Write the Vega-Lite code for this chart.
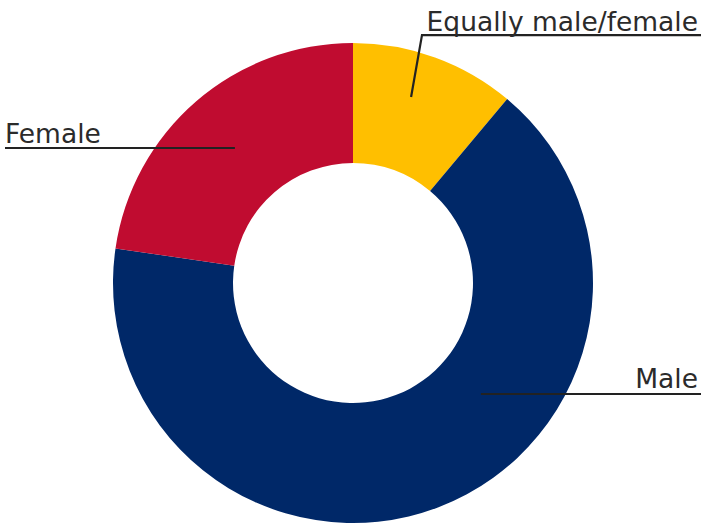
{
  "$schema": "https://vega.github.io/schema/vega-lite/v6.json",
  "autosize": "none",
  "width": 696,
  "height": 482,
  "padding": {"top": 42, "bottom": 0, "left": 5, "right": 0},
  "background": "white",
  "config": {"view": {"stroke": null}},
  "datasets": {
    "shares": [
      {"category": "Equally male/female", "share": 11.1, "rank": 1},
      {"category": "Male", "share": 66.2, "rank": 2},
      {"category": "Female", "share": 22.7, "rank": 3}
    ],
    "callouts": [
      {"category": "Equally male/female", "pt": 1, "x": 0.242, "y": 0.775},
      {"category": "Equally male/female", "pt": 2, "x": 0.2875, "y": 1.033},
      {"category": "Equally male/female", "pt": 3, "x": 1.45, "y": 1.033},
      {"category": "Female", "pt": 1, "x": -1.45, "y": 0.5625},
      {"category": "Female", "pt": 2, "x": -0.492, "y": 0.5625},
      {"category": "Male", "pt": 1, "x": 0.533, "y": -0.4625},
      {"category": "Male", "pt": 2, "x": 1.45, "y": -0.4625}
    ],
    "labels": [
      {"category": "Equally male/female", "x": 1.4375, "y": 1.05, "side": "right"},
      {"category": "Female", "x": -1.45, "y": 0.585, "side": "left"},
      {"category": "Male", "x": 1.4375, "y": -0.437, "side": "right"}
    ]
  },
  "layer": [
    {
      "data": {"name": "shares"},
      "mark": {"type": "arc", "radius": 240, "radius2": 120, "stroke": null},
      "encoding": {
        "theta": {"field": "share", "type": "quantitative", "stack": true},
        "order": {"field": "rank", "type": "quantitative"},
        "color": {
          "field": "category",
          "type": "nominal",
          "scale": {
            "domain": ["Equally male/female", "Male", "Female"],
            "range": ["#FFBF00", "#002868", "#C00C30"]
          },
          "legend": null
        }
      }
    },
    {
      "data": {"name": "callouts"},
      "mark": {"type": "line", "color": "#222222", "strokeWidth": 2.2},
      "encoding": {
        "x": {"field": "x", "type": "quantitative", "scale": {"domain": [-1.45, 1.45], "nice": false, "zero": false}, "axis": null},
        "y": {"field": "y", "type": "quantitative", "scale": {"domain": [-1.004, 1.004], "nice": false, "zero": false}, "axis": null},
        "detail": {"field": "category"},
        "order": {"field": "pt", "type": "quantitative"}
      }
    },
    {
      "data": {"name": "labels"},
      "transform": [{"filter": "datum.side === 'right'"}],
      "mark": {"type": "text", "align": "right", "baseline": "alphabetic", "font": "DejaVu Sans", "fontSize": 26.5, "color": "#2b2b2b"},
      "encoding": {
        "x": {"field": "x", "type": "quantitative"},
        "y": {"field": "y", "type": "quantitative"},
        "text": {"field": "category"}
      }
    },
    {
      "data": {"name": "labels"},
      "transform": [{"filter": "datum.side === 'left'"}],
      "mark": {"type": "text", "align": "left", "baseline": "alphabetic", "font": "DejaVu Sans", "fontSize": 26.5, "color": "#2b2b2b"},
      "encoding": {
        "x": {"field": "x", "type": "quantitative"},
        "y": {"field": "y", "type": "quantitative"},
        "text": {"field": "category"}
      }
    }
  ]
}
